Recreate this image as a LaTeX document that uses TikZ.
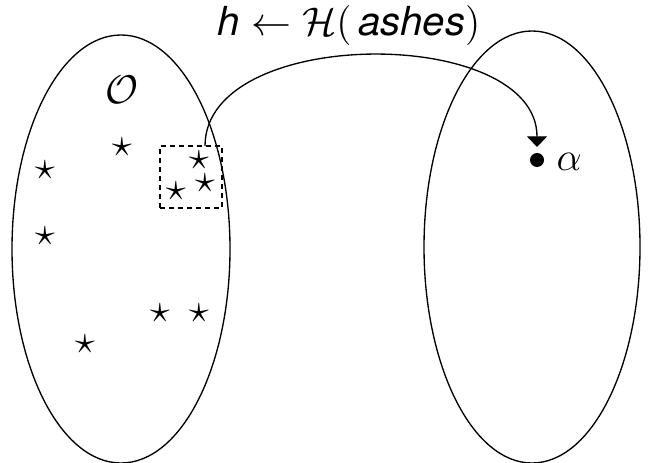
\documentclass[tikz,border=0pt]{standalone}
\usepackage{fontspec}
\newfontfamily\heros{TeX Gyre Heros}
\usetikzlibrary{arrows.meta}
\begin{document}
\begin{tikzpicture}[x=0.3pt,y=-0.3pt,
  set/.style={draw,line width=0.4pt},
  st/.style={inner sep=0pt,font=\fontsize{12}{14}\selectfont},
  lbl/.style={inner sep=0pt,font=\fontsize{12}{14}\selectfont},
  conn/.style={line width=0.4pt,-{Triangle[width=6pt,length=3.2pt]}}]
\useasboundingbox (0,0) rectangle (650,463);
\draw[set] (121,249) ellipse [x radius=109, y radius=214];
\draw[set] (532,247) ellipse [x radius=108, y radius=216];
\node[lbl] (top) at (349,26) {{\heros\itshape h}$\;\leftarrow\mathcal{H}($\,{\heros\itshape ashes}$)$};
\node[lbl] (O) at (122,90) {$\mathcal{O}$};
\node[st] (s1) at (45,170) {$\star$};
\node[st] (s2) at (122,147) {$\star$};
\node[st] (s3) at (199,160) {$\star$};
\node[st] (s4) at (176,191) {$\star$};
\node[st] (s5) at (205,183) {$\star$};
\node[st] (s6) at (45,236) {$\star$};
\node[st] (s7) at (160,313) {$\star$};
\node[st] (s8) at (199,313) {$\star$};
\node[st] (s9) at (85,344) {$\star$};
\node[draw,dashed,line width=0.4pt,minimum width=62*0.3pt,minimum height=62*0.3pt,inner sep=0pt,dash pattern=on 1.5pt off 1.2pt] (box) at (191,177) {};
\node[circle,fill,inner sep=0pt,minimum size=4.2pt] (dot) at (537,160) {};
\node[lbl,anchor=west] (alpha) at (556,162) {$\alpha$};
\coordinate (start) at (205,146);
\draw[conn] (start) .. controls (205,25) and (537,25) .. ([yshift=1.6pt]dot.north);
\end{tikzpicture}
\end{document}
